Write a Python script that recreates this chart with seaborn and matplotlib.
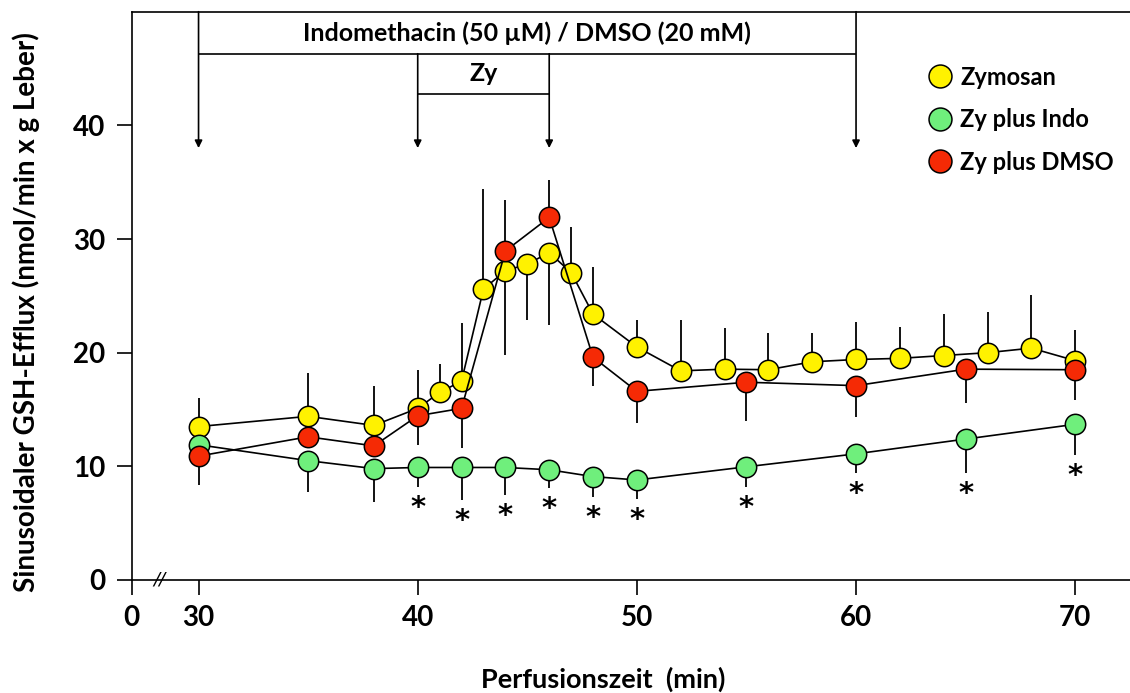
import numpy as np
import pandas as pd
import matplotlib
matplotlib.use("Agg")
import matplotlib.pyplot as plt
import seaborn as sns
from matplotlib.lines import Line2D

# ---- data: sinusoidal GSH efflux (nmol/min x g liver), mean with one-sided SD ----
zy_time = [30, 35, 38, 40, 41, 42, 43, 44, 45, 46, 47, 48, 50, 52, 54, 56, 58, 60, 62, 64, 66, 68, 70]
zy_mean = [13.5, 14.4, 13.6, 15.1, 16.5, 17.5, 25.6, 27.2, 27.8, 28.8, 27.05, 23.4, 20.5, 18.4,
           18.55, 18.5, 19.2, 19.4, 19.5, 19.75, 20.0, 20.4, 19.3]
zy_sd_up = [2.5, 3.8, 3.5, 3.4, 2.5, 5.15, 8.8, 0, 0, 0, 4.05, 4.1, 2.4, 4.5,
            3.65, 3.2, 2.5, 3.3, 2.8, 3.65, 3.6, 4.7, 2.7]
zy_sd_down = [0, 0, 0, 0, 0, 0, 0, 7.4, 4.9, 6.4, 0, 0, 0, 0,
              0, 0, 0, 0, 0, 0, 0, 0, 0]

treat_time = [30, 35, 38, 40, 42, 44, 46, 48, 50, 55, 60, 65, 70]

indo_mean = [11.9, 10.5, 9.8, 9.9, 9.9, 9.9, 9.7, 9.1, 8.8, 9.96, 11.1, 12.4, 13.7]
indo_sd_down = [0, 2.8, 2.9, 1.7, 2.9, 2.4, 1.6, 1.8, 1.7, 1.8, 1.7, 3.0, 2.7]
indo_signif = [False, False, False, True, True, True, True, True, True, True, True, True, True]

dmso_mean = [10.9, 12.6, 11.8, 14.45, 15.1, 28.95, 31.9, 19.6, 16.6, 17.4, 17.1, 18.55, 18.5]
dmso_sd_up = [0, 0, 0, 0, 0, 4.5, 3.3, 0, 0, 0, 0, 0, 0]
dmso_sd_down = [2.5, 0, 0, 2.55, 3.5, 0, 0, 2.5, 2.8, 3.4, 2.8, 2.95, 2.7]

series_labels = ["Zymosan", "Zy plus Indo", "Zy plus DMSO"]
series_colors = ["#FFF200", "#6FEF7C", "#F52A05"]

tick_times = [0, 30, 40, 50, 60, 70]
tick_labels = ["0", "30", "40", "50", "60", "70"]
y_ticks = [0, 10, 20, 30, 40]

# treatment periods (min)
indo_period = (30, 60)
zy_period = (40, 46)

# ---- styling ----
sns.set_theme(style="ticks")
plt.rcParams["font.family"] = ["Lato", "DejaVu Sans"]
plt.rcParams["font.weight"] = "bold"
plt.rcParams["text.color"] = "black"
plt.rcParams["axes.labelcolor"] = "black"
plt.rcParams["xtick.color"] = "black"
plt.rcParams["ytick.color"] = "black"

BREAK_POS = 26.95   # axis position where t = 0 is drawn, in front of the axis break


def axis_pos(t):
    t = np.asarray(t, dtype=float)
    return np.where(t >= 30, t, BREAK_POS)


fig = plt.figure(figsize=(11.3, 6.93), dpi=100)
W, H = 1130, 693
ax = fig.add_axes([131.7 / W, 1 - 580 / H, 1 - 131.7 / W, (580 - 11.7) / H])

MS = 215  # marker area (pt^2)


def draw_series(time, mean, sd_up, sd_down, color, z):
    x = axis_pos(time)
    m = np.asarray(mean)
    up = np.asarray(sd_up)
    dn = np.asarray(sd_down)
    ax.vlines(x, m - dn, m + up, color="black", lw=1.3, zorder=z)
    sns.lineplot(x=x, y=m, color="black", lw=1.2, ax=ax, zorder=z + 0.5,
                 estimator=None, sort=False)
    sns.scatterplot(x=x, y=m, s=MS, color=color, edgecolor="black",
                    linewidth=1.1, ax=ax, zorder=z + 1, legend=False)


draw_series(zy_time, zy_mean, zy_sd_up, zy_sd_down, series_colors[0], 2)
draw_series(treat_time, indo_mean, np.zeros(len(treat_time)), indo_sd_down, series_colors[1], 5)
draw_series(treat_time, dmso_mean, dmso_sd_up, dmso_sd_down, series_colors[2], 8)

# significance marks below the Indo error bars
for t, m, d, s in zip(treat_time, indo_mean, indo_sd_down, indo_signif):
    if s:
        ax.annotate("*", xy=(t, m - d), xytext=(0, -5), textcoords="offset points",
                    ha="center", va="top", fontsize=21, fontweight="bold",
                    family="DejaVu Sans", zorder=12)

# ---- treatment brackets with arrows ----
top = 50
bar_y = 46.3
zy_bottom = 42.8
arrow_tip = 38.0
lw_b = 1.2
ax.hlines(bar_y, *indo_period, color="black", lw=lw_b, zorder=1)
ax.hlines(zy_bottom, *zy_period, color="black", lw=lw_b, zorder=1)
for t, y0 in [(indo_period[0], top), (indo_period[1], top),
              (zy_period[0], bar_y), (zy_period[1], bar_y)]:
    ax.annotate("", xy=(t, arrow_tip), xytext=(t, y0),
                arrowprops=dict(arrowstyle="-|>", color="black", lw=lw_b,
                                mutation_scale=11, shrinkA=0, shrinkB=0))
ax.text(np.mean(indo_period), (top + bar_y) / 2, "Indomethacin (50 µM) / DMSO (20 mM)",
        ha="center", va="center", fontsize=18, fontweight="bold")
ax.text(np.mean(zy_period), (bar_y + zy_bottom) / 2, "Zy",
        ha="center", va="center", fontsize=18, fontweight="bold")

# ---- axes ----
ax.set_xlim(BREAK_POS, 72.5)
ax.set_ylim(0, 50)
ax.set_xticks(axis_pos(tick_times))
ax.set_xticklabels(tick_labels)
ax.set_yticks(y_ticks)
ax.tick_params(axis="both", direction="out", length=11, width=1.2, labelsize=20,
               color="black", labelcolor="black")
ax.tick_params(axis="x", pad=7)
ax.tick_params(axis="y", pad=8)
for lab in ax.get_xticklabels() + ax.get_yticklabels():
    lab.set_fontweight("bold")
for side in ["left", "bottom", "top"]:
    ax.spines[side].set_color("black")
    ax.spines[side].set_linewidth(1.2)
ax.spines["right"].set_visible(False)

# axis break marks
ax.text(28.2, 0, "//", ha="center", va="center", fontsize=13, fontweight="normal",
        family="DejaVu Sans", style="italic", clip_on=False, zorder=12)

ax.set_xlabel("Perfusionszeit  (min)", fontsize=19.5, fontweight="bold")
ax.set_ylabel("Sinusoidaler GSH-Efflux (nmol/min x g Leber)", fontsize=20, fontweight="bold")
ax.xaxis.set_label_coords(0.472, -0.153)
ax.yaxis.set_label_coords(-0.092, 0.472)

# ---- legend ----
handles = [Line2D([0], [0], marker="o", ls="none", markersize=16.5, markerfacecolor=c,
                  markeredgecolor="black", markeredgewidth=1.1) for c in series_colors]
leg = ax.legend(handles, series_labels, loc="upper left", bbox_to_anchor=(0.786, 0.926),
                frameon=False, fontsize=17, handletextpad=0.35, labelspacing=0.83,
                borderpad=0, handlelength=1.0)
for txt in leg.get_texts():
    txt.set_fontweight("bold")

fig.savefig("out.png", dpi=100)
